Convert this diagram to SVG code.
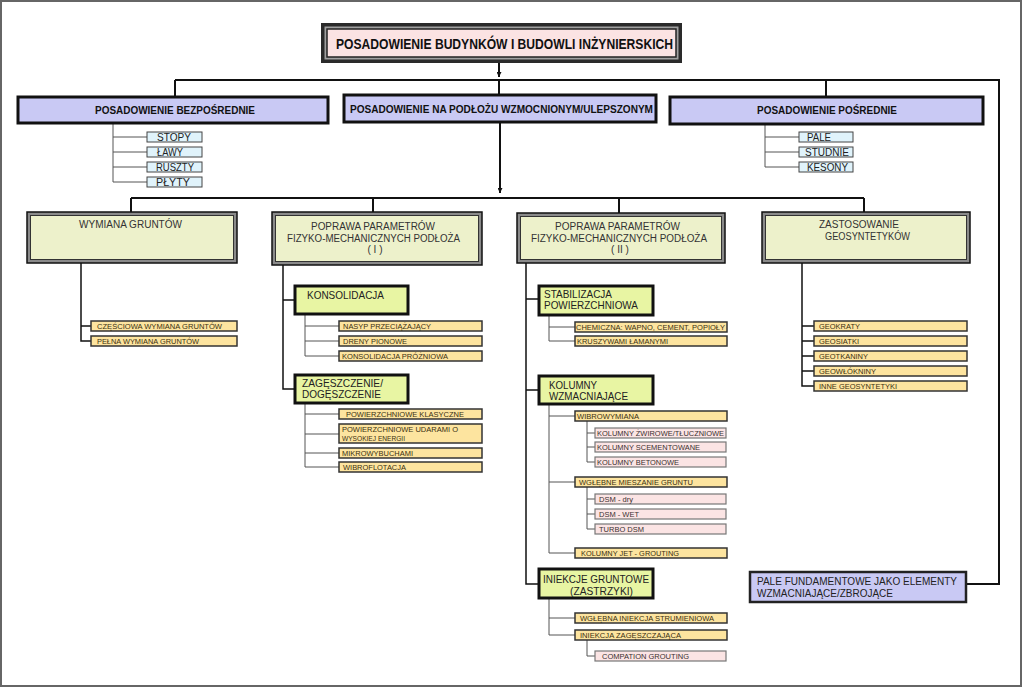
<svg xmlns="http://www.w3.org/2000/svg" width="1024" height="688" viewBox="0 0 1024 688">
<defs>
<marker id="arr" viewBox="0 0 10 10" refX="10" refY="5" markerWidth="5" markerHeight="5" orient="auto" markerUnits="userSpaceOnUse">
<path d="M0,0 L10,5 L0,10 z" fill="#111"/>
</marker>
<style>
text{font-family:"Liberation Sans",Arial,sans-serif}
.l1{fill:#c9c9f4;stroke:#111;stroke-width:3}
.l1t{font-size:10.5px;font-weight:bold;fill:#111}
.l2o{fill:#8a8a8a;stroke:#111;stroke-width:1.5}
.l2i{fill:#edf1cb;stroke:#333;stroke-width:1}
.l2t{font-size:10px;fill:#333}
.sub{fill:#e8f5a3;stroke:#111;stroke-width:3}
.subt{font-size:11px;fill:#222}
.yi{fill:#fde49f;stroke:#333;stroke-width:1.5}
.yt{font-size:8px;fill:#3a3010}
.pi{fill:#fbe4e4;stroke:#777;stroke-width:1.2}
.pt{font-size:8px;fill:#3a3030}
.bi{fill:#e0f3fb;stroke:#444;stroke-width:1}
.bt{font-size:10px;fill:#222}
.c1{fill:none;stroke:#111;stroke-width:2}
.c2{fill:none;stroke:#111;stroke-width:1.5}
.c3{fill:none;stroke:#555;stroke-width:1}
</style>
</defs>
<rect x="0" y="0" width="1024" height="688" fill="#fff"/>
<rect x="1" y="1" width="1020" height="685" fill="none" stroke="#666" stroke-width="2"/>

<g id="connectors">
<path class="c1" d="M499,63 V77" marker-end="url(#arr)"/>
<path class="c1" d="M175,80 H999 V584 H966"/>
<path class="c1" d="M175,80 V97 M499,80 V95 M826,80 V97"/>
<path class="c1" d="M500,122 V193" marker-end="url(#arr)"/>
<path class="c1" d="M131,198 H864 M131,198 V212 M373,198 V212 M619,198 V213 M864,198 V212"/>
<path class="c3" d="M113,123 V182 M113,137 H147 M113,152 H147 M113,167 H147 M113,182 H147"/>
<path class="c3" d="M765,124 V167 M765,137 H799 M765,152 H799 M765,167 H799"/>
<path class="c2" d="M81,263 V341 H91 M81,326 H91"/>
<path class="c2" d="M283,265 V389 H295 M283,300 H295"/>
<path class="c3" d="M305,314 V356 H339 M305,326 H339 M305,341 H339"/>
<path class="c3" d="M305,403 V467 H339 M305,414 H339 M305,434 H339 M305,453 H339"/>
<path class="c2" d="M526,263 V584 H539 M526,299 H539 M526,390 H539"/>
<path class="c3" d="M549,315 V341 H575 M549,327 H575"/>
<path class="c3" d="M549,404 V553 H575 M549,416 H575 M549,482 H575"/>
<path class="c3" d="M587,421 V462 H595 M587,433 H595 M587,447 H595"/>
<path class="c3" d="M587,487 V529 H595 M587,499 H595 M587,514 H595"/>
<path class="c3" d="M549,598 V635 H575 M549,618 H575"/>
<path class="c3" d="M587,640 V656 H595"/>
<path class="c2" d="M802,263 V386 H814 M802,326 H814 M802,341 H814 M802,356 H814 M802,371 H814"/>
</g>

<g id="title">
<rect x="321" y="23" width="361" height="40" fill="#2a2a2a"/>
<rect x="324.5" y="26.5" width="354" height="33" fill="#a0a0a0"/>
<rect x="327" y="29" width="349" height="28" fill="#fbe3e3" stroke="#222" stroke-width="1.5"/>
<text x="336" y="49" font-size="15" font-weight="bold" fill="#111" textLength="337" lengthAdjust="spacingAndGlyphs">POSADOWIENIE BUDYNKÓW I BUDOWLI INŻYNIERSKICH</text>
</g>

<g id="bezposrednie">
<rect class="l1" x="18" y="97" width="310" height="26"/>
<text class="l1t" x="95" y="114" textLength="160" lengthAdjust="spacingAndGlyphs">POSADOWIENIE BEZPOŚREDNIE</text>
</g>
<g id="wzmocnione">
<rect class="l1" x="344" y="95" width="312" height="27"/>
<text class="l1t" x="350" y="113" textLength="303" lengthAdjust="spacingAndGlyphs">POSADOWIENIE NA PODŁOŻU WZMOCNIONYM/ULEPSZONYM</text>
</g>
<g id="posrednie">
<rect class="l1" x="670" y="97" width="313" height="27"/>
<text class="l1t" x="757" y="114" textLength="140" lengthAdjust="spacingAndGlyphs">POSADOWIENIE POŚREDNIE</text>
</g>

<g id="stopy"><rect class="bi" x="147" y="132" width="55" height="10"/><text class="bt" x="157" y="141" textLength="34" lengthAdjust="spacingAndGlyphs">STOPY</text></g>
<g id="lawy"><rect class="bi" x="147" y="147" width="55" height="10"/><text class="bt" x="157" y="156" textLength="26" lengthAdjust="spacingAndGlyphs">ŁAWY</text></g>
<g id="ruszty"><rect class="bi" x="147" y="162" width="55" height="10"/><text class="bt" x="156" y="171" textLength="38" lengthAdjust="spacingAndGlyphs">RUSZTY</text></g>
<g id="plyty"><rect class="bi" x="147" y="177" width="55" height="10"/><text class="bt" x="156" y="186" textLength="34" lengthAdjust="spacingAndGlyphs">PŁYTY</text></g>

<g id="pale"><rect class="bi" x="799" y="132" width="54" height="10"/><text class="bt" x="807" y="141" textLength="24" lengthAdjust="spacingAndGlyphs">PALE</text></g>
<g id="studnie"><rect class="bi" x="799" y="147" width="54" height="10"/><text class="bt" x="805" y="156" textLength="44" lengthAdjust="spacingAndGlyphs">STUDNIE</text></g>
<g id="kesony"><rect class="bi" x="799" y="162" width="54" height="10"/><text class="bt" x="807" y="171" textLength="41" lengthAdjust="spacingAndGlyphs">KESONY</text></g>

<g id="wymiana">
<rect class="l2o" x="27" y="212" width="210" height="51"/>
<rect class="l2i" x="30.5" y="215.5" width="203" height="44"/>
<text class="l2t" x="79" y="228" textLength="103" lengthAdjust="spacingAndGlyphs">WYMIANA GRUNTÓW</text>
</g>
<g id="poprawa1">
<rect class="l2o" x="272" y="212" width="210" height="53"/>
<rect class="l2i" x="275.5" y="215.5" width="203" height="46"/>
<text class="l2t" x="311" y="230" textLength="124" lengthAdjust="spacingAndGlyphs">POPRAWA PARAMETRÓW</text>
<text class="l2t" x="287" y="242" textLength="173" lengthAdjust="spacingAndGlyphs">FIZYKO-MECHANICZNYCH PODŁOŻA</text>
<text class="l2t" x="375" y="253" text-anchor="middle">( I )</text>
</g>
<g id="poprawa2">
<rect class="l2o" x="517" y="213" width="208" height="50"/>
<rect class="l2i" x="520.5" y="216.5" width="201" height="43"/>
<text class="l2t" x="555" y="230" textLength="125" lengthAdjust="spacingAndGlyphs">POPRAWA PARAMETRÓW</text>
<text class="l2t" x="531" y="242" textLength="176" lengthAdjust="spacingAndGlyphs">FIZYKO-MECHANICZNYCH PODŁOŻA</text>
<text class="l2t" x="620" y="253" text-anchor="middle">( II )</text>
</g>
<g id="geosyntetyki">
<rect class="l2o" x="762" y="212" width="208" height="51"/>
<rect class="l2i" x="765.5" y="215.5" width="201" height="44"/>
<text class="l2t" x="819" y="228" textLength="80" lengthAdjust="spacingAndGlyphs">ZASTOSOWANIE</text>
<text class="l2t" x="825" y="240" textLength="85" lengthAdjust="spacingAndGlyphs">GEOSYNTETYKÓW</text>
</g>

<g id="czesciowa"><rect class="yi" x="91" y="321" width="146" height="10"/><text class="yt" x="97" y="329" textLength="125" lengthAdjust="spacingAndGlyphs">CZĘŚCIOWA WYMIANA GRUNTÓW</text></g>
<g id="pelna"><rect class="yi" x="91" y="336" width="146" height="10"/><text class="yt" x="97" y="344" textLength="102" lengthAdjust="spacingAndGlyphs">PEŁNA WYMIANA GRUNTÓW</text></g>

<g id="konsolidacja"><rect class="sub" x="295" y="286" width="113" height="28"/><text class="subt" x="307" y="299" textLength="77" lengthAdjust="spacingAndGlyphs">KONSOLIDACJA</text></g>
<g id="nasyp"><rect class="yi" x="339" y="321" width="143" height="10"/><text class="yt" x="343" y="329" textLength="88" lengthAdjust="spacingAndGlyphs">NASYP PRZECIĄŻAJĄCY</text></g>
<g id="dreny"><rect class="yi" x="339" y="336" width="143" height="10"/><text class="yt" x="343" y="344" textLength="64" lengthAdjust="spacingAndGlyphs">DRENY PIONOWE</text></g>
<g id="prozniowa"><rect class="yi" x="339" y="351" width="143" height="10"/><text class="yt" x="342" y="359" textLength="106" lengthAdjust="spacingAndGlyphs">KONSOLIDACJA PRÓŻNIOWA</text></g>

<g id="zageszczenie"><rect class="sub" x="295" y="375" width="113" height="28"/><text class="subt" x="302" y="387" textLength="81" lengthAdjust="spacingAndGlyphs">ZAGĘSZCZENIE/</text><text class="subt" x="302" y="398" textLength="79" lengthAdjust="spacingAndGlyphs">DOGĘSZCZENIE</text></g>
<g id="klasyczne"><rect class="yi" x="339" y="409" width="143" height="10"/><text class="yt" x="346" y="417" textLength="118" lengthAdjust="spacingAndGlyphs">POWIERZCHNIOWE KLASYCZNE</text></g>
<g id="udarami"><rect class="yi" x="339" y="424" width="143" height="19"/><text class="yt" x="342" y="432" textLength="116" lengthAdjust="spacingAndGlyphs">POWIERZCHNIOWE UDARAMI O</text><text class="yt" x="342" y="441" textLength="63" lengthAdjust="spacingAndGlyphs">WYSOKIEJ ENERGII</text></g>
<g id="mikrowybuchami"><rect class="yi" x="339" y="448" width="143" height="10"/><text class="yt" x="342" y="456" textLength="71" lengthAdjust="spacingAndGlyphs">MIKROWYBUCHAMI</text></g>
<g id="wibroflotacja"><rect class="yi" x="339" y="462" width="143" height="10"/><text class="yt" x="343" y="470" textLength="63" lengthAdjust="spacingAndGlyphs">WIBROFLOTACJA</text></g>

<g id="stabilizacja"><rect class="sub" x="539" y="286" width="114" height="29"/><text class="subt" x="544" y="298" textLength="68" lengthAdjust="spacingAndGlyphs">STABILIZACJA</text><text class="subt" x="544" y="309" textLength="94" lengthAdjust="spacingAndGlyphs">POWIERZCHNIOWA</text></g>
<g id="chemiczna"><rect class="yi" x="575" y="322" width="152" height="10"/><text class="yt" x="576" y="330" textLength="149" lengthAdjust="spacingAndGlyphs">CHEMICZNA: WAPNO, CEMENT, POPIOŁY</text></g>
<g id="kruszywami"><rect class="yi" x="575" y="336" width="152" height="10"/><text class="yt" x="577" y="344" textLength="91" lengthAdjust="spacingAndGlyphs">KRUSZYWAMI ŁAMANYMI</text></g>

<g id="kolumny"><rect class="sub" x="539" y="376" width="114" height="28"/><text class="subt" x="549" y="389" textLength="48" lengthAdjust="spacingAndGlyphs">KOLUMNY</text><text class="subt" x="549" y="400" textLength="79" lengthAdjust="spacingAndGlyphs">WZMACNIAJĄCE</text></g>
<g id="wibrowymiana"><rect class="yi" x="575" y="411" width="152" height="10"/><text class="yt" x="577" y="419" textLength="62" lengthAdjust="spacingAndGlyphs">WIBROWYMIANA</text></g>
<g id="zwirowe"><rect class="pi" x="595" y="428" width="131" height="10"/><text class="pt" x="597" y="436" textLength="127" lengthAdjust="spacingAndGlyphs">KOLUMNY ŻWIROWE/TŁUCZNIOWE</text></g>
<g id="scementowane"><rect class="pi" x="595" y="442" width="131" height="10"/><text class="pt" x="597" y="450" textLength="103" lengthAdjust="spacingAndGlyphs">KOLUMNY SCEMENTOWANE</text></g>
<g id="betonowe"><rect class="pi" x="595" y="457" width="131" height="10"/><text class="pt" x="597" y="465" textLength="82" lengthAdjust="spacingAndGlyphs">KOLUMNY BETONOWE</text></g>
<g id="mieszanie"><rect class="yi" x="575" y="477" width="152" height="10"/><text class="yt" x="579" y="485" textLength="114" lengthAdjust="spacingAndGlyphs">WGŁĘBNE MIESZANIE GRUNTU</text></g>
<g id="dsmdry"><rect class="pi" x="595" y="494" width="131" height="10"/><text class="pt" x="599" y="502" textLength="34" lengthAdjust="spacingAndGlyphs">DSM - dry</text></g>
<g id="dsmwet"><rect class="pi" x="595" y="509" width="131" height="10"/><text class="pt" x="599" y="517" textLength="40" lengthAdjust="spacingAndGlyphs">DSM - WET</text></g>
<g id="turbodsm"><rect class="pi" x="595" y="524" width="131" height="10"/><text class="pt" x="599" y="532" textLength="45" lengthAdjust="spacingAndGlyphs">TURBO DSM</text></g>
<g id="jet"><rect class="yi" x="575" y="548" width="152" height="10"/><text class="yt" x="581" y="556" textLength="98" lengthAdjust="spacingAndGlyphs">KOLUMNY JET - GROUTING</text></g>

<g id="iniekcje"><rect class="sub" x="539" y="569" width="114" height="29"/><text class="subt" x="543" y="583" textLength="106" lengthAdjust="spacingAndGlyphs">INIEKCJE GRUNTOWE</text><text class="subt" x="570" y="595" textLength="63" lengthAdjust="spacingAndGlyphs">(ZASTRZYKI)</text></g>
<g id="strumieniowa"><rect class="yi" x="575" y="613" width="152" height="10"/><text class="yt" x="580" y="621" textLength="134" lengthAdjust="spacingAndGlyphs">WGŁĘBNA INIEKCJA STRUMIENIOWA</text></g>
<g id="zageszczajaca"><rect class="yi" x="575" y="630" width="152" height="10"/><text class="yt" x="580" y="638" textLength="101" lengthAdjust="spacingAndGlyphs">INIEKCJA ZAGĘSZCZAJĄCA</text></g>
<g id="compation"><rect class="pi" x="595" y="651" width="131" height="10"/><text class="pt" x="602" y="659" textLength="87" lengthAdjust="spacingAndGlyphs">COMPATION GROUTING</text></g>

<g id="geokraty"><rect class="yi" x="814" y="321" width="153" height="10"/><text class="yt" x="819" y="329" textLength="41" lengthAdjust="spacingAndGlyphs">GEOKRATY</text></g>
<g id="geosiatki"><rect class="yi" x="814" y="336" width="153" height="10"/><text class="yt" x="819" y="344" textLength="40" lengthAdjust="spacingAndGlyphs">GEOSIATKI</text></g>
<g id="geotkaniny"><rect class="yi" x="814" y="351" width="153" height="10"/><text class="yt" x="819" y="359" textLength="49" lengthAdjust="spacingAndGlyphs">GEOTKANINY</text></g>
<g id="geowlokniny"><rect class="yi" x="814" y="366" width="153" height="10"/><text class="yt" x="819" y="374" textLength="57" lengthAdjust="spacingAndGlyphs">GEOWŁÓKNINY</text></g>
<g id="inne"><rect class="yi" x="814" y="381" width="153" height="10"/><text class="yt" x="819" y="389" textLength="78" lengthAdjust="spacingAndGlyphs">INNE GEOSYNTETYKI</text></g>

<g id="pale-fundamentowe">
<rect x="750" y="572" width="216" height="30" fill="#c9c9f4" stroke="#222" stroke-width="2.5"/>
<text x="757" y="585" font-size="10" fill="#222" textLength="200" lengthAdjust="spacingAndGlyphs">PALE FUNDAMENTOWE JAKO ELEMENTY</text>
<text x="757" y="597" font-size="10" fill="#222" textLength="136" lengthAdjust="spacingAndGlyphs">WZMACNIAJĄCE/ZBROJĄCE</text>
</g>
</svg>
